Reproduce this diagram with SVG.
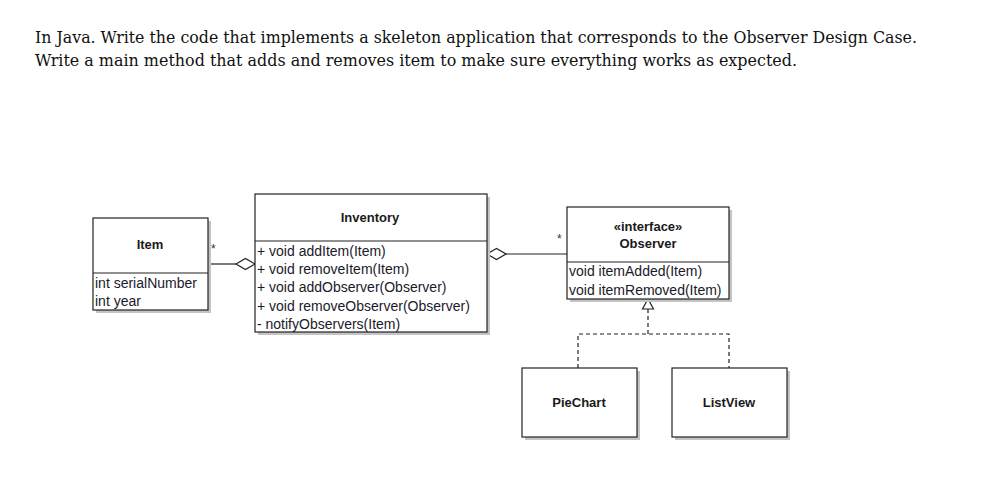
<svg xmlns="http://www.w3.org/2000/svg" width="997" height="478" viewBox="0 0 997 478">
<style>
.title{font-family:"DejaVu Serif","Liberation Serif",serif;font-size:17px;fill:#111}
.box{fill:#fff;stroke:#222;stroke-width:1.2}
.shadow{fill:#c4c4c4}
.div{stroke:#222;stroke-width:1.2}
.name{font-family:"Liberation Sans",Arial,sans-serif;font-size:13px;font-weight:bold;fill:#1a1a1a;text-anchor:middle}
.mem{font-family:"Liberation Sans",Arial,sans-serif;font-size:14px;fill:#1a1a2a}
.mult{font-family:"Liberation Sans",Arial,sans-serif;font-size:12px;fill:#333}
.line{stroke:#222;stroke-width:1.2;fill:none}
.dash{stroke:#222;stroke-width:1.2;fill:none;stroke-dasharray:4 3}
.dia{fill:#fff;stroke:#222;stroke-width:1.2}
</style>
<rect width="997" height="478" fill="#fff"/>
<text class="title" x="35" y="43" textLength="882" lengthAdjust="spacingAndGlyphs">In Java. Write the code that implements a skeleton application that corresponds to the Observer Design Case.</text>
<text class="title" x="35" y="66" textLength="762" lengthAdjust="spacingAndGlyphs">Write a main method that adds and removes item to make sure everything works as expected.</text>

<g id="connectors">
  <line class="line" x1="208" y1="264" x2="236" y2="264"/>
  <polygon class="dia" points="236,264 245.5,258.5 255,264 245.5,269.5"/>
  <text class="mult" x="211" y="253">*</text>
  <line class="line" x1="506" y1="254" x2="567" y2="254"/>
  <polygon class="dia" points="487,254 496.5,248.5 506,254 496.5,259.5"/>
  <text class="mult" x="557" y="243">*</text>
  <path class="dash" d="M648,309 V334 M578,368 V334 H729 V368"/>
  <polygon class="dia" points="648,299 642.5,309 653.5,309"/>
</g>

<g id="item">
  <rect class="shadow" x="96" y="221" width="115" height="92"/>
  <rect class="box" x="93" y="218" width="115" height="92"/>
  <line class="div" x1="93" y1="273" x2="208" y2="273"/>
  <text class="name" x="150" y="249">Item</text>
  <text class="mem" x="95" y="288">int serialNumber</text>
  <text class="mem" x="95" y="306">int year</text>
</g>

<g id="inventory">
  <rect class="shadow" x="258" y="197" width="232" height="138"/>
  <rect class="box" x="255" y="194" width="232" height="138"/>
  <line class="div" x1="255" y1="241" x2="487" y2="241"/>
  <text class="name" x="370" y="222">Inventory</text>
  <text class="mem" x="257" y="256">+ void addItem(Item)</text>
  <text class="mem" x="257" y="274">+ void removeItem(Item)</text>
  <text class="mem" x="257" y="292">+ void addObserver(Observer)</text>
  <text class="mem" x="257" y="311">+ void removeObserver(Observer)</text>
  <text class="mem" x="257" y="329">- notifyObservers(Item)</text>
</g>

<g id="observer">
  <rect class="shadow" x="570" y="210" width="162" height="92"/>
  <rect class="box" x="567" y="207" width="162" height="92"/>
  <line class="div" x1="567" y1="262" x2="729" y2="262"/>
  <text class="name" x="648" y="231">«interface»</text>
  <text class="name" x="648" y="248">Observer</text>
  <text class="mem" x="569" y="276">void itemAdded(Item)</text>
  <text class="mem" x="569" y="295">void itemRemoved(Item)</text>
</g>

<g id="piechart">
  <rect class="shadow" x="525" y="371" width="115" height="69"/>
  <rect class="box" x="522" y="368" width="115" height="69"/>
  <text class="name" x="579" y="407">PieChart</text>
</g>

<g id="listview">
  <rect class="shadow" x="675" y="371" width="115" height="69"/>
  <rect class="box" x="672" y="368" width="115" height="69"/>
  <text class="name" x="729" y="407">ListView</text>
</g>
</svg>
